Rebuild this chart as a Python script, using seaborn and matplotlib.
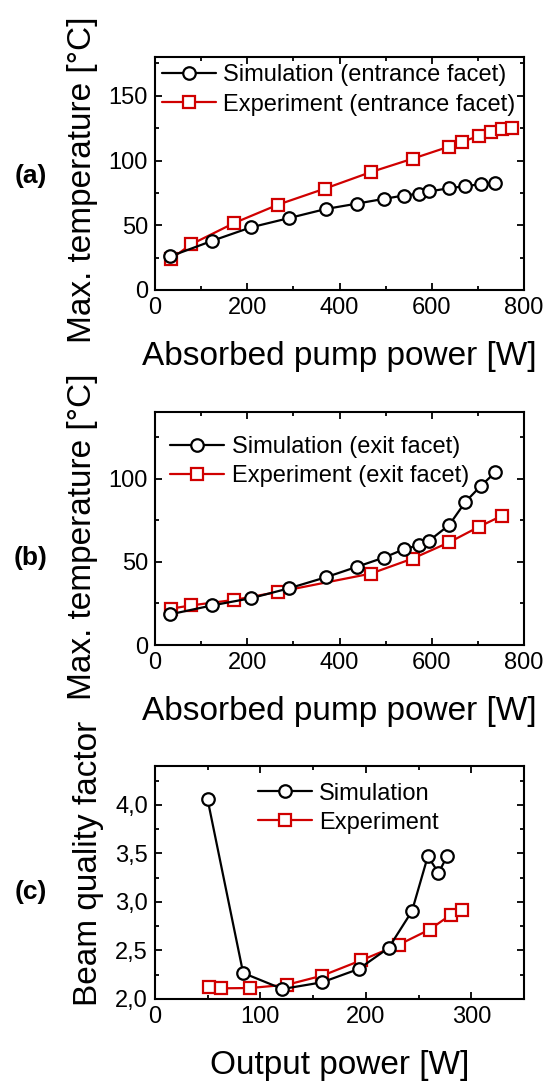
import numpy as np
import pandas as pd
import seaborn as sns
import matplotlib
matplotlib.use("Agg")
import matplotlib.pyplot as plt
from matplotlib.ticker import MultipleLocator, FuncFormatter

# ---------------- data ----------------
# (a) entrance facet
sim_a_x = [32.5, 124, 208, 291, 370.5, 439, 496, 539.5, 573, 594.5, 637.8, 673, 706.4, 738]
sim_a_y = [25.9, 38.0, 48.4, 55.6, 62.6, 66.8, 70.4, 73.0, 74.5, 76.1, 78.7, 80.2, 81.8, 82.8]
exp_a_x = [33.9, 78, 171.9, 267.3, 369, 468, 558.3, 637.8, 664.5, 702.8, 729.5, 753.3, 774.3]
exp_a_y = [23.8, 35.2, 51.8, 66.0, 78.4, 91.1, 101.4, 110.8, 114.4, 119.0, 122.4, 124.7, 125.5]

# (b) exit facet
sim_b_x = [32.5, 124, 208, 291, 370.5, 439, 496, 539.5, 573, 594.5, 637.8, 673, 706.4, 738]
sim_b_y = [18.4, 23.8, 28.1, 34.1, 40.7, 47.1, 52.5, 57.5, 60.1, 62.7, 72.1, 86.0, 95.6, 103.8]
exp_b_x = [33.9, 78, 171.9, 267.3, 468, 558.3, 637.8, 702.8, 753.3]
exp_b_y = [21.8, 23.8, 27.1, 31.9, 42.9, 51.9, 61.7, 71.1, 77.8]

# (c) beam quality
sim_c_x = [49.9, 83.6, 120.9, 158.5, 193.2, 221.6, 243.7, 258.8, 268.9, 277.1]
sim_c_y = [4.055, 2.268, 2.103, 2.172, 2.309, 2.526, 2.904, 3.471, 3.299, 3.471]
exp_c_x = [51.1, 62.2, 90.0, 125.6, 158.8, 195.7, 231.4, 260.4, 280.3, 291.4]
exp_c_y = [2.124, 2.110, 2.113, 2.148, 2.241, 2.399, 2.560, 2.715, 2.866, 2.914]

labels_a = ["Simulation (entrance facet)", "Experiment (entrance facet)"]
labels_b = ["Simulation (exit facet)", "Experiment (exit facet)"]
labels_c = ["Simulation", "Experiment"]

# ---------------- style ----------------
sns.set_theme(style="ticks")
plt.rcParams["font.family"] = ["Liberation Sans", "DejaVu Sans"]
plt.rcParams["axes.linewidth"] = 1.5
plt.rcParams["xtick.direction"] = "in"
plt.rcParams["ytick.direction"] = "in"
plt.rcParams["text.color"] = "black"
plt.rcParams["axes.labelcolor"] = "black"
plt.rcParams["xtick.color"] = "black"
plt.rcParams["ytick.color"] = "black"
plt.rcParams["legend.labelcolor"] = "black"

RED = "#D00000"
TICK_FS = 17
LAB_FS = 24
LEG_FS = 17

fig = plt.figure(figsize=(5.44, 10.81), dpi=100)
W = 544.0
H = 1081.0

def make_ax(top_px, bottom_px):
    return fig.add_axes([155 / W, 1 - bottom_px / H, 369 / W, (bottom_px - top_px) / H])

ax_a = make_ax(57, 290)
ax_b = make_ax(412, 645)
ax_c = make_ax(766, 999)

def draw(ax, sx, sy, ex, ey, labels):
    sns.lineplot(x=sx, y=sy, ax=ax, color="black", lw=1.6, marker="o",
                 markersize=9, markerfacecolor="white", markeredgecolor="black",
                 markeredgewidth=1.6, label=labels[0], sort=False, zorder=3)
    sns.lineplot(x=ex, y=ey, ax=ax, color=RED, lw=1.6, marker="s",
                 markersize=8, markerfacecolor="white", markeredgecolor=RED,
                 markeredgewidth=1.6, label=labels[1], sort=False, zorder=2)

draw(ax_a, sim_a_x, sim_a_y, exp_a_x, exp_a_y, labels_a)
draw(ax_b, sim_b_x, sim_b_y, exp_b_x, exp_b_y, labels_b)
draw(ax_c, sim_c_x, sim_c_y, exp_c_x, exp_c_y, labels_c)

ax_a.set_xlim(0, 800); ax_a.set_ylim(0, 180)
ax_b.set_xlim(0, 800); ax_b.set_ylim(0, 140)
ax_c.set_xlim(0, 350); ax_c.set_ylim(2.0, 4.4)

ax_a.xaxis.set_major_locator(MultipleLocator(200)); ax_a.xaxis.set_minor_locator(MultipleLocator(100))
ax_b.xaxis.set_major_locator(MultipleLocator(200)); ax_b.xaxis.set_minor_locator(MultipleLocator(100))
ax_c.xaxis.set_major_locator(MultipleLocator(100)); ax_c.xaxis.set_minor_locator(MultipleLocator(50))
ax_a.yaxis.set_major_locator(MultipleLocator(50)); ax_a.yaxis.set_minor_locator(MultipleLocator(25))
ax_b.yaxis.set_major_locator(MultipleLocator(50)); ax_b.yaxis.set_minor_locator(MultipleLocator(25))
ax_c.yaxis.set_major_locator(MultipleLocator(0.5)); ax_c.yaxis.set_minor_locator(MultipleLocator(0.25))
ax_c.yaxis.set_major_formatter(FuncFormatter(lambda v, p: f"{v:.1f}".replace(".", ",")))

for ax in (ax_a, ax_b, ax_c):
    for s in ax.spines.values():
        s.set_visible(True)
        s.set_linewidth(1.5)
        s.set_color("black")
    ax.tick_params(which="both", direction="in", top=True, right=True,
                   width=1.3, color="black", labelsize=TICK_FS, labelcolor="black")
    ax.tick_params(which="major", length=5)
    ax.tick_params(which="minor", length=3)
    ax.tick_params(axis="x", which="major", pad=5)
    ax.tick_params(axis="y", which="major", pad=5)
    ax.set_facecolor("white")
    ax.grid(False)

ax_a.set_xlabel("Absorbed pump power [W]", fontsize=LAB_FS, labelpad=16, color="black")
ax_b.set_xlabel("Absorbed pump power [W]", fontsize=LAB_FS, labelpad=16, color="black")
ax_c.set_xlabel("Output power [W]", fontsize=LAB_FS, labelpad=16, color="black")
ax_a.set_ylabel("Max. temperature [°C]", fontsize=LAB_FS, labelpad=8, color="black")
ax_b.set_ylabel("Max. temperature [°C]", fontsize=LAB_FS, labelpad=8, color="black")
ax_c.set_ylabel("Beam quality factor", fontsize=LAB_FS, labelpad=8, color="black")
ax_a.yaxis.label.set_y(0.472)
ax_b.yaxis.label.set_y(0.464)
ax_c.yaxis.label.set_y(0.58)

def legend(ax, x, y):
    leg = ax.legend(loc="upper left", bbox_to_anchor=(x, y), frameon=False, fontsize=LEG_FS,
                    handlelength=2.3, handletextpad=0.3, labelspacing=0.3,
                    borderpad=0, borderaxespad=0)
    for t in leg.get_texts():
        t.set_color("black")

legend(ax_a, 0.019, 0.968)
legend(ax_b, 0.041, 0.896)
legend(ax_c, 0.279, 0.929)

for lab, y in (("(a)", 176), ("(b)", 558), ("(c)", 892)):
    fig.text(31 / W, 1 - y / H, lab, fontsize=19, fontweight="bold", ha="center", va="center",
             color="black")

fig.savefig("out.png", dpi=100)
